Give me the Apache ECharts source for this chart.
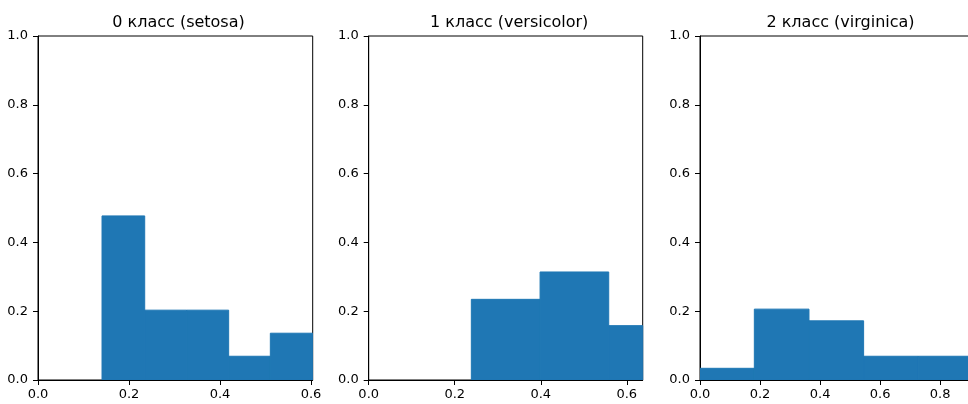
<!DOCTYPE html>
<html>
<head>
<meta charset="utf-8">
<script src="https://cdn.jsdelivr.net/npm/echarts@6/dist/echarts.min.js"></script>
<style>html,body{margin:0;padding:0;background:#fff}#c{width:968px;height:404px}</style>
</head>
<body>
<div id="c"></div>
<script>
var titles = ['0 класс (setosa)', '1 класс (versicolor)', '2 класс (virginica)'];
var edges0 = [0.1407, 0.2345, 0.3267, 0.4190, 0.5106, 0.6037];
var heights0 = [0.477, 0.203, 0.203, 0.069, 0.136];
var edges1 = [0.2386, 0.3984, 0.5580, 0.7178];
var heights1 = [0.2345, 0.314, 0.158];
var edges2 = [0.0, 0.181, 0.363, 0.545, 0.727, 0.909];
var heights2 = [0.034, 0.206, 0.172, 0.069, 0.069];
var xMax = [0.6037, 0.637, 0.911];
var xTicks = [[0, 0.2, 0.4, 0.6], [0, 0.2, 0.4, 0.6], [0, 0.2, 0.4, 0.6, 0.8]];
var yTicks = [0, 0.2, 0.4, 0.6, 0.8, 1.0];

var allEdges = [edges0, edges1, edges2];
var allHeights = [heights0, heights1, heights2];
var gridPos = [
  {left: 38, width: 274.7},
  {left: 368.7, width: 274},
  {left: 700, width: 273.5}
];
var font = 'DejaVu Sans';
var option = {
  animation: false,
  backgroundColor: '#fff',
  title: [], grid: [], xAxis: [], yAxis: [], series: []
};
for (var i = 0; i < 3; i++) {
  var g = gridPos[i];
  option.grid.push({left: g.left, top: 36, width: g.width, height: 344, show: true,
    containLabel: false, outerBoundsMode: 'none',
    borderColor: '#000', borderWidth: 1, backgroundColor: 'transparent'});
  var cx = g.left + 271 / 2;
  option.title.push({text: titles[i], left: cx, top: 10, textAlign: 'center',
    textStyle: {fontFamily: font, fontSize: 16, fontWeight: 'normal', color: '#000'}});
  option.xAxis.push({type: 'value', gridIndex: i, min: 0, max: xMax[i],
    splitLine: {show: false},
    axisLine: {show: true, onZero: false, lineStyle: {color: '#000', width: 1}},
    axisTick: {show: true, length: 5, customValues: xTicks[i], lineStyle: {color: '#000'}},
    axisLabel: {customValues: xTicks[i], margin: 8, color: '#000', fontFamily: font, fontSize: 13,
      formatter: function (v) { return v.toFixed(1); }}
  });
  option.yAxis.push({type: 'value', gridIndex: i, min: 0, max: 1,
    splitLine: {show: false},
    axisLine: {show: true, onZero: false, lineStyle: {color: '#000', width: 1}},
    axisTick: {show: true, length: 5, customValues: yTicks, lineStyle: {color: '#000'}},
    axisLabel: {customValues: yTicks, margin: 10, color: '#000', fontFamily: font, fontSize: 13,
      formatter: function (v) { return v.toFixed(1); }}
  });
  var data = [];
  for (var k = 0; k < allHeights[i].length; k++) {
    data.push([allEdges[i][k], allEdges[i][k + 1], allHeights[i][k]]);
  }
  option.series.push({
    type: 'custom', xAxisIndex: i, yAxisIndex: i, data: data, clip: true,
    encode: {x: [0, 1], y: 2},
    renderItem: function (params, api) {
      var p0 = api.coord([api.value(0), api.value(2)]);
      var p1 = api.coord([api.value(1), 0]);
      var cs = params.coordSys;
      var rect = echarts.graphic.clipRectByRect(
        {x: p0[0], y: p0[1], width: p1[0] - p0[0], height: p1[1] - p0[1]},
        {x: cs.x, y: cs.y, width: cs.width, height: cs.height});
      if (!rect) return;
      return {type: 'rect', shape: rect,
        style: {fill: '#1f77b4', stroke: '#1f77b4', lineWidth: 1}};
    }
  });
}
var chart = echarts.init(document.getElementById('c'), null, {renderer: 'canvas'});
chart.setOption(option);
</script>
</body>
</html>
